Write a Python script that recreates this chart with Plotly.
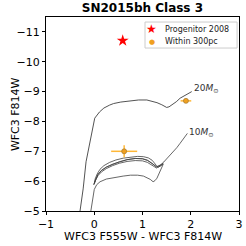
import plotly.graph_objects as go

# Tracks
track20_x = [-0.33, -0.29, -0.23, -0.17, -0.10, -0.06, 0.01, 0.11, 0.20, 0.32, 0.40, 0.55, 0.75, 0.92, 1.09, 1.20, 1.30, 1.40, 1.50, 1.55, 1.61, 1.70, 1.78, 1.90, 2.02]
track20_y = [-4.6, -5.0, -5.74, -6.65, -7.21, -7.55, -8.11, -8.32, -8.45, -8.55, -8.60, -8.65, -8.70, -8.72, -8.72, -8.68, -8.63, -8.56, -8.47, -8.49, -8.55, -8.66, -8.78, -8.88, -9.0]

track10_x = [-0.10, -0.07, -0.03, 0.00, 0.05, 0.12, 0.25, 0.40, 0.60, 0.75, 0.90, 1.02, 1.10, 1.16, 1.22, 1.26, 1.30, 1.34, 1.38, 1.43,
             1.38, 1.33, 1.29, 1.25, 1.20, 1.12, 1.02, 0.90, 0.75, 0.60, 0.45, 0.32, 0.20, 0.12, 0.06, 0.02, 0.00,
             0.03, 0.08, 0.15, 0.25, 0.38, 0.52, 0.68, 0.85, 1.00, 1.10, 1.18, 1.24, 1.29, 1.33, 1.38, 1.43,
             1.38, 1.33, 1.29, 1.24, 1.18, 1.10, 1.00, 0.85, 0.68, 0.52, 0.38, 0.25, 0.15, 0.08, 0.03, -0.01,
             0.03, 0.08, 0.15, 0.25, 0.38, 0.52, 0.68, 0.85, 1.00, 1.10, 1.18, 1.24, 1.29, 1.33, 1.38, 1.44, 1.50, 1.57, 1.64, 1.71, 1.78, 1.85, 1.93]
track10_y = [-4.7, -5.0, -5.5, -5.72, -5.88, -5.98, -6.07, -6.12, -6.17, -6.20, -6.20, -6.17, -6.12, -6.06, -5.98, -6.02, -6.10, -6.25, -6.40, -6.57,
             -6.52, -6.47, -6.52, -6.60, -6.70, -6.78, -6.82, -6.83, -6.81, -6.77, -6.71, -6.63, -6.52, -6.40, -6.24, -6.08, -5.92,
             -6.07, -6.23, -6.36, -6.47, -6.57, -6.65, -6.72, -6.76, -6.75, -6.70, -6.62, -6.54, -6.48, -6.50, -6.55, -6.60,
             -6.52, -6.46, -6.44, -6.49, -6.56, -6.63, -6.68, -6.69, -6.66, -6.60, -6.52, -6.42, -6.31, -6.19, -6.04, -5.88,
             -6.07, -6.23, -6.36, -6.47, -6.57, -6.65, -6.72, -6.76, -6.75, -6.70, -6.62, -6.54, -6.48, -6.50, -6.55, -6.64, -6.74, -6.86, -6.98, -7.12, -7.27, -7.43, -7.60]

track_labels = ["20<i>M</i><sub>⊙</sub>", "10<i>M</i><sub>⊙</sub>"]
label_x = [2.02, 1.93]
label_y = [-9.12, -7.64]

# Points
prog_x = [0.59]
prog_y = [-10.71]

near_x = [0.62, 1.90]
near_y = [-7.0, -8.69]
near_xerr = [0.27, 0.11]
near_yerr = [0.2, 0.03]

x_ticks = [-1, 0, 1, 2, 3]
y_ticks = [-11, -10, -9, -8, -7, -6, -5]
legend_names = ["Progenitor 2008", "Within 300pc"]

fig = go.Figure()
line_color = "#404040"
fig.add_trace(go.Scatter(x=track20_x, y=track20_y, mode="lines",
                         line=dict(color=line_color, width=0.9), showlegend=False, hoverinfo="skip"))
fig.add_trace(go.Scatter(x=track10_x, y=track10_y, mode="lines",
                         line=dict(color=line_color, width=0.8), showlegend=False, hoverinfo="skip"))
fig.add_trace(go.Scatter(x=prog_x, y=prog_y, mode="markers", name=legend_names[0], showlegend=False,
                         marker=dict(symbol="star", size=9, color="red", line=dict(width=0))))
fig.add_trace(go.Scatter(x=near_x, y=near_y, mode="markers", name=legend_names[1], showlegend=False,
                         marker=dict(symbol="circle", size=5, color="#f0a020",
                                     line=dict(width=0.7, color="#a07830")),
                         error_x=dict(type="data", array=near_xerr, color="rgba(255,170,20,0.85)", thickness=1.5, width=0),
                         error_y=dict(type="data", array=near_yerr, color="rgba(255,170,20,0.85)", thickness=1.5, width=0)))

for t, lx, ly in zip(track_labels, label_x, label_y):
    fig.add_annotation(x=lx, y=ly, text=t, showarrow=False, xanchor="left", yanchor="middle",
                       font=dict(size=9, color="#333333", family="DejaVu Sans"))

# axis titles
fig.add_annotation(x=0.5, y=-0.13, xref="paper", yref="paper", text="WFC3 F555W - WFC3 F814W",
                   showarrow=False, xanchor="center", yanchor="middle",
                   font=dict(size=11, color="black", family="DejaVu Sans"))
fig.add_annotation(x=-0.16, y=0.5, xref="paper", yref="paper", text="WFC3 F814W", textangle=-90,
                   showarrow=False, xanchor="center", yanchor="middle",
                   font=dict(size=11, color="black", family="DejaVu Sans"))

# custom legend (matplotlib-like compact box)
fig.add_shape(type="rect", xref="paper", yref="paper", x0=0.513, x1=0.990, y0=0.840, y1=0.974,
              line=dict(color="#cccccc", width=1), fillcolor="rgba(255,255,255,0.85)")
fig.add_annotation(x=0.549, y=0.938, xref="paper", yref="paper", text="★", showarrow=False,
                   xanchor="center", yanchor="middle", font=dict(size=12, color="red", family="DejaVu Sans"))
fig.add_annotation(x=0.549, y=0.873, xref="paper", yref="paper", text="●", showarrow=False,
                   xanchor="center", yanchor="middle", font=dict(size=7, color="#f0a020", family="DejaVu Sans"))
for name, ly in zip(legend_names, [0.938, 0.873]):
    fig.add_annotation(x=0.606, y=ly, xref="paper", yref="paper", text=name, showarrow=False,
                       xanchor="left", yanchor="middle", font=dict(size=8, color="#222222", family="DejaVu Sans"))

axis_common = dict(showgrid=False, zeroline=False, showline=True, linecolor="black", linewidth=1,
                   mirror=True, ticks="outside", ticklen=3, tickwidth=1, tickcolor="black", automargin=False,
                   tickfont=dict(size=11, color="black", family="DejaVu Sans"))
fig.update_xaxes(range=[-1, 3], tickvals=x_ticks, **axis_common)
fig.update_yaxes(range=[-5, -11.5], tickvals=y_ticks, **axis_common)

fig.update_layout(
    width=246, height=246,
    margin=dict(l=46, r=7, t=17, b=35),
    plot_bgcolor="white", paper_bgcolor="white",
    title=dict(text="<b>SN2015bh Class 3</b>", x=0.579, xanchor="center", y=0.985, yanchor="top",
               font=dict(size=12, color="black", family="DejaVu Sans")),
    showlegend=False,
)

fig.write_html("out.html", config={"displayModeBar": False},
               post_script="document.body.style.margin='0';document.body.style.padding='0';")
